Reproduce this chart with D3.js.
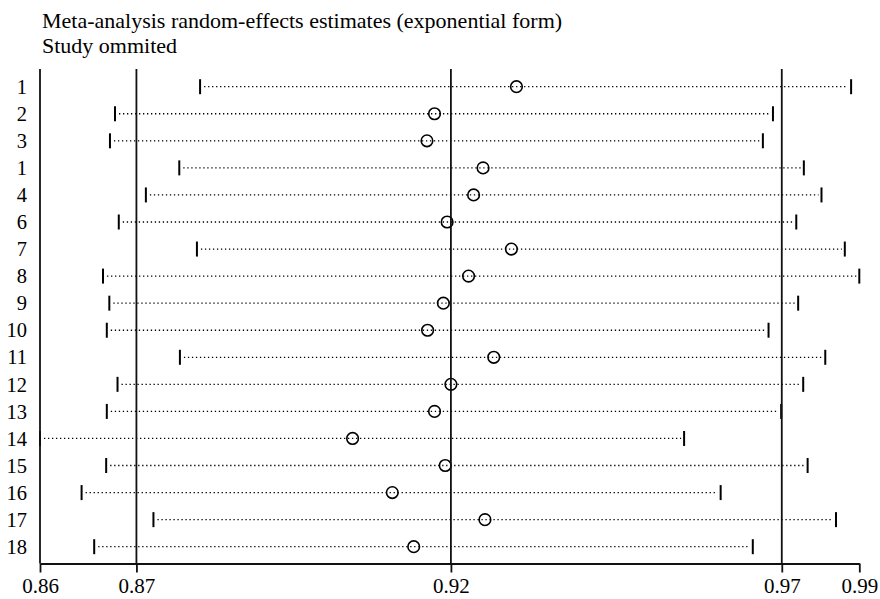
<!DOCTYPE html>
<html>
<head>
<meta charset="utf-8">
<script src="https://cdn.jsdelivr.net/npm/d3@7"></script>
<style>
  body { margin: 0; background: #fff; }
  svg { display: block; font-family: "Liberation Serif", "DejaVu Serif", serif; }
</style>
</head>
<body>
<svg width="880" height="599"></svg>
<script>
    // study labels as printed (top to bottom)
    const studies = ['1', '2', '3', '1', '4', '6', '7', '8', '9', '10', '11', '12', '13', '14', '15', '16', '17', '18'];
    // estimate with the study omitted, and its CI
    const estimate = [0.9326, 0.9196, 0.9184, 0.9273, 0.9258, 0.9216, 0.9318, 0.9250, 0.9210, 0.9185,
                      0.9290, 0.9222, 0.9196, 0.9066, 0.9213, 0.9129, 0.9276, 0.9163];
    const lower = [0.8824, 0.8689, 0.8681, 0.8791, 0.8738, 0.8695, 0.8819, 0.8670, 0.8680, 0.8676,
                   0.8792, 0.8693, 0.8676, 0.8570, 0.8675, 0.8636, 0.8750, 0.8656];
    const upper = [0.9857, 0.9733, 0.9717, 0.9782, 0.9810, 0.9770, 0.9847, 0.9870, 0.9773, 0.9726,
                   0.9816, 0.9781, 0.9746, 0.9592, 0.9788, 0.9650, 0.9833, 0.9701];
    // overall estimate and its CI (vertical lines)
    const overall = [0.8723, 0.9222, 0.9747];
    // axis ticks: min lower, overall CI + estimate, max upper
    const tickVals = [0.857, 0.8723, 0.9222, 0.9747, 0.987];
    const titleLines = ['Meta-analysis random-effects estimates (exponential form)', 'Study ommited'];

    const svg = d3.select('svg');
    const yTop = 69, yBottom = 563.5;

    const xScale = d3.scaleLinear()
      .domain([0.857, 0.987])
      .range([40, 859.3]);
    const yScale = d3.scalePoint()
      .domain(d3.range(studies.length))
      .range([86.7, 546.7]);

    // title
    svg.selectAll('text.title')
      .data(titleLines)
      .enter().append('text')
      .attr('class', 'title')
      .attr('x', 42)
      .attr('y', function(d, i) {return 28 + i * 24.5})
      .style('font-size', '22px')
      .text(function(d) {return d});

    // dotted CI lines
    const rows = svg.append('g');
    rows.selectAll('line.ci')
      .data(studies)
      .enter().append('line')
      .attr('class', 'ci')
      .attr('x1', function(d, i) {return xScale(lower[i]) + 4})
      .attr('x2', function(d, i) {return xScale(upper[i]) - 3})
      .attr('y1', function(d, i) {return yScale(i)})
      .attr('y2', function(d, i) {return yScale(i)})
      .attr('stroke', '#000')
      .attr('stroke-width', 1.3)
      .attr('stroke-dasharray', '1.3,2.7');

    // CI caps
    rows.selectAll('line.lo')
      .data(studies)
      .enter().append('line')
      .attr('class', 'lo')
      .attr('x1', function(d, i) {return xScale(lower[i])})
      .attr('x2', function(d, i) {return xScale(lower[i])})
      .attr('y1', function(d, i) {return yScale(i) - 7.5})
      .attr('y2', function(d, i) {return yScale(i) + 7.5})
      .attr('stroke', '#000')
      .attr('stroke-width', 2);
    rows.selectAll('line.hi')
      .data(studies)
      .enter().append('line')
      .attr('class', 'hi')
      .attr('x1', function(d, i) {return xScale(upper[i])})
      .attr('x2', function(d, i) {return xScale(upper[i])})
      .attr('y1', function(d, i) {return yScale(i) - 7.5})
      .attr('y2', function(d, i) {return yScale(i) + 7.5})
      .attr('stroke', '#000')
      .attr('stroke-width', 2);

    // reference lines for the overall estimate
    svg.append('g').selectAll('line')
      .data(overall)
      .enter().append('line')
      .attr('x1', function(d) {return xScale(d)})
      .attr('x2', function(d) {return xScale(d)})
      .attr('y1', yTop)
      .attr('y2', yBottom)
      .attr('stroke', '#111')
      .attr('stroke-width', 1.8);

    // left axis line
    svg.append('line')
      .attr('x1', xScale.range()[0]).attr('x2', xScale.range()[0])
      .attr('y1', yTop).attr('y2', yBottom)
      .attr('stroke', '#111')
      .attr('stroke-width', 1.8);

    // estimates
    rows.selectAll('circle')
      .data(estimate)
      .enter().append('circle')
      .attr('cx', function(d) {return xScale(d)})
      .attr('cy', function(d, i) {return yScale(i)})
      .attr('r', 5.8)
      .attr('fill', 'none')
      .attr('stroke', '#000')
      .attr('stroke-width', 1.6);

    // study labels
    svg.selectAll('text.study')
      .data(studies)
      .enter().append('text')
      .attr('class', 'study')
      .attr('x', 27)
      .attr('y', function(d, i) {return yScale(i)})
      .attr('dy', '0.35em')
      .attr('text-anchor', 'end')
      .style('font-size', '20.5px')
      .text(function(d) {return d});

    // x axis
    const xAxis = d3.axisBottom(xScale)
      .tickValues(tickVals)
      .tickFormat(d3.format('.2f'))
      .tickSize(9)
      .tickSizeOuter(0);
    const gX = svg.append('g')
      .attr('transform', 'translate(0,' + yBottom + ')')
      .call(xAxis);
    gX.select('.domain').attr('stroke', '#111').attr('stroke-width', 1.8);
    gX.selectAll('.tick line').attr('stroke', '#111').attr('stroke-width', 1.8);
    gX.selectAll('.tick text')
      .attr('y', 15)
      .attr('fill', '#000')
      .style('font-family', '"Liberation Serif", serif')
      .style('font-size', '21px');
</script>
</body>
</html>
